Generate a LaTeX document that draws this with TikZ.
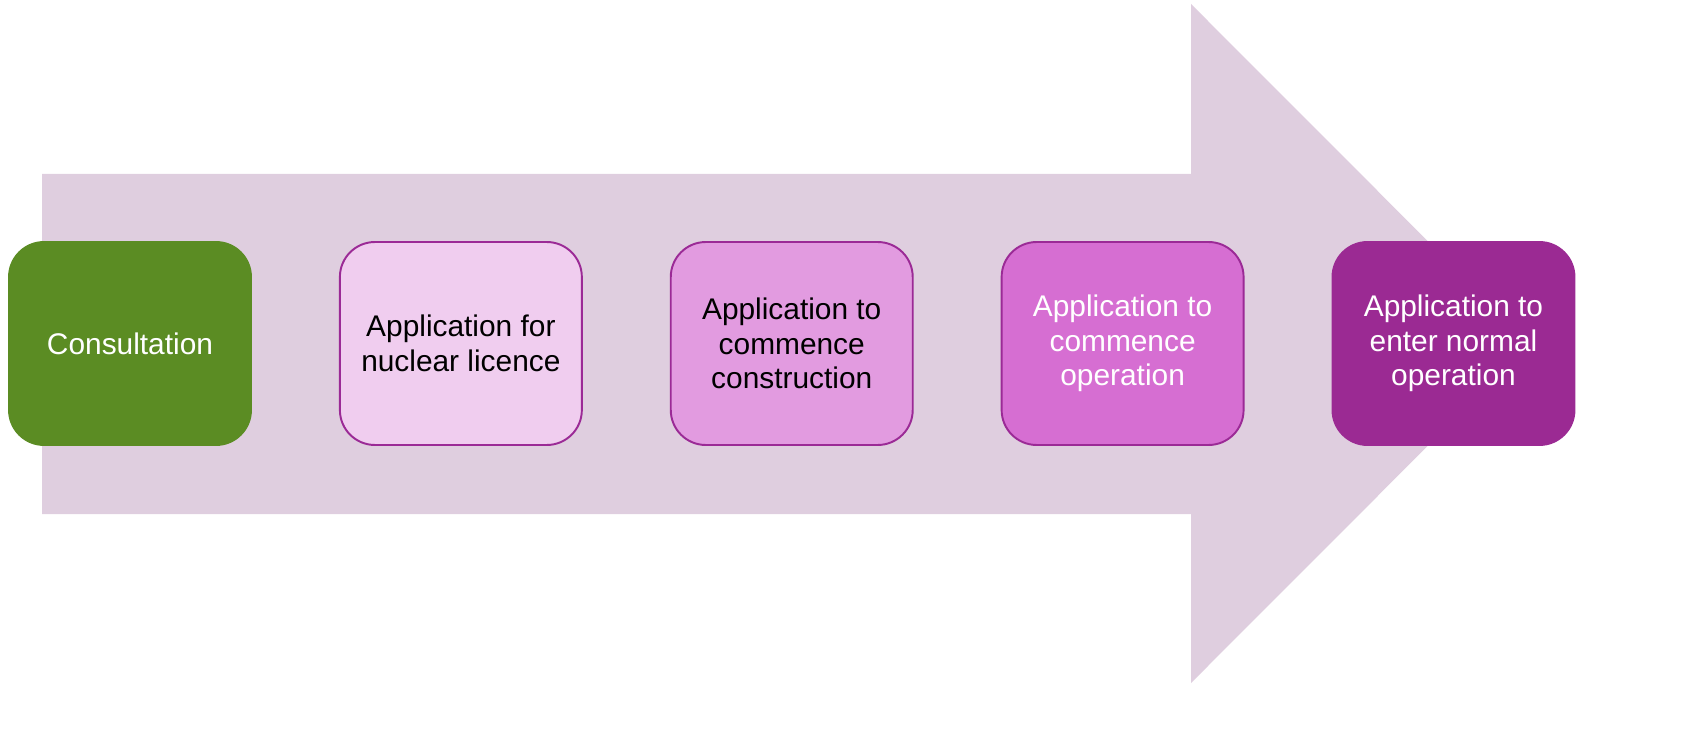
\documentclass[tikz,border=0pt]{standalone}
\usepackage{fontspec}
\setmainfont{Liberation Sans}
\usetikzlibrary{positioning}
\definecolor{arrowbg}{HTML}{DFCEDF}
\definecolor{stageedge}{HTML}{9B2A96}
\definecolor{greenfill}{HTML}{5B8C23}
\definecolor{pinkA}{HTML}{F0CDEF}
\definecolor{pinkB}{HTML}{E29BE0}
\definecolor{pinkC}{HTML}{D66ED2}
\definecolor{pinkD}{HTML}{9B2A93}
\begin{document}
\begin{tikzpicture}[x=0.02cm, y=-0.02cm,
	main/.style = {draw=stageedge, line width=1.1pt, rounded corners=0.7cm, minimum width=4.84cm, minimum height=4.06cm, align=center, font=\fontsize{17}{19.6}\selectfont},
	node distance=1.74cm]
		\useasboundingbox (0,0) rectangle (1689,736);
		\fill[arrowbg] (42,174) -- (1191,174) -- (1191,4) -- (1530,343.5) -- (1191,683) -- (1191,514) -- (42,514) -- cycle;
		\node[main, draw=greenfill, fill=greenfill, text=white] (1) at (130,343.5) {Consultation};
		\node[main, fill=pinkA] (2) [right=of 1] {Application for\\nuclear licence};
		\node[main, fill=pinkB] (3) [right=of 2] {Application to\\commence\\construction};
		\node[main, fill=pinkC, text=white] (4) [right=of 3] {Application to\\commence\\operation};
		\node[main, draw=pinkD, fill=pinkD, text=white] (5) [right=of 4] {Application to\\enter normal\\operation};
	\end{tikzpicture}
\end{document}
